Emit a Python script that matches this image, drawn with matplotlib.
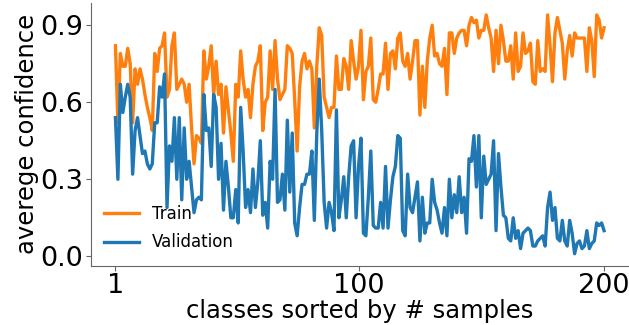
import matplotlib
matplotlib.use("Agg")
import matplotlib.pyplot as plt
import numpy as np

x_ticks = [1, 100, 200]
x_tick_labels = ["1", "100", "200"]
y_ticks = [0.0, 0.3, 0.6, 0.9]
y_tick_labels = ["0.0", "0.3", "0.6", "0.9"]

train = [
    0.82, 0.52, 0.79, 0.74, 0.74, 0.81, 0.75, 0.52, 0.73, 0.67,
    0.73, 0.69, 0.63, 0.58, 0.54, 0.49, 0.79, 0.72, 0.81, 0.82,
    0.87, 0.62, 0.65, 0.82, 0.87, 0.65, 0.67, 0.69, 0.67, 0.60,
    0.67, 0.50, 0.36, 0.47, 0.46, 0.44, 0.80, 0.69, 0.74, 0.82,
    0.63, 0.76, 0.63, 0.67, 0.48, 0.66, 0.57,
    0.48, 0.37, 0.67, 0.62, 0.80, 0.69, 0.62, 0.65, 0.54, 0.67,
    0.74, 0.76, 0.82, 0.49, 0.60, 0.62, 0.80, 0.65, 0.84, 0.69,
    0.61, 0.63, 0.65, 0.82, 0.81, 0.79, 0.61, 0.41, 0.66, 0.76,
    0.79, 0.73, 0.76, 0.73, 0.50, 0.74, 0.89, 0.86, 0.62, 0.58,
    0.54, 0.58, 0.58, 0.78, 0.65, 0.65, 0.77, 0.74, 0.65,
    0.84, 0.76, 0.69, 0.74, 0.88, 0.61, 0.72, 0.74, 0.85, 0.61,
    0.60, 0.65, 0.71, 0.71, 0.83, 0.65, 0.79, 0.80, 0.73, 0.85,
    0.87, 0.76, 0.74, 0.79, 0.69, 0.76, 0.84, 0.84, 0.55, 0.74,
    0.58, 0.76, 0.85, 0.90, 0.78, 0.79, 0.75, 0.74, 0.81, 0.63,
    0.87, 0.87, 0.79, 0.85, 0.87, 0.88, 0.88, 0.82,
    0.90, 0.93, 0.91, 0.92, 0.85, 0.88, 0.88, 0.94, 0.89, 0.85,
    0.72, 0.88, 0.75, 0.90, 0.84, 0.76, 0.76, 0.82, 0.69, 0.87,
    0.72, 0.74, 0.87, 0.79, 0.80, 0.83, 0.68, 0.67, 0.84, 0.72,
    0.73, 0.72, 0.94, 0.82, 0.68, 0.87, 0.93, 0.88, 0.83, 0.69,
    0.80, 0.86, 0.78, 0.87, 0.85, 0.85, 0.85, 0.85, 0.72, 0.89,
    0.84, 0.70, 0.94, 0.92, 0.85, 0.89,
]

validation = [
    0.54, 0.30, 0.67, 0.56, 0.62, 0.67, 0.62, 0.32, 0.49, 0.54,
    0.47, 0.40, 0.41, 0.36, 0.34, 0.36, 0.52, 0.52, 0.66, 0.62,
    0.71, 0.19, 0.43, 0.37, 0.54, 0.30, 0.54, 0.22, 0.50, 0.30,
    0.37, 0.27, 0.17, 0.22, 0.23, 0.22, 0.63, 0.49, 0.50, 0.35,
    0.63, 0.58, 0.30, 0.44, 0.18, 0.37, 0.27,
    0.15, 0.15, 0.26, 0.13, 0.58, 0.41, 0.19, 0.26, 0.17, 0.34,
    0.19, 0.29, 0.45, 0.16, 0.21, 0.11, 0.37, 0.30, 0.65, 0.21,
    0.22, 0.32, 0.18, 0.53, 0.25, 0.48, 0.13, 0.08, 0.19, 0.28,
    0.28, 0.32, 0.32, 0.41, 0.14, 0.48, 0.69, 0.49, 0.21, 0.11,
    0.21, 0.17, 0.10, 0.57, 0.15, 0.22, 0.31, 0.15, 0.31,
    0.43, 0.45, 0.15, 0.35, 0.46, 0.09, 0.08, 0.23, 0.41, 0.12,
    0.11, 0.11, 0.21, 0.11, 0.35, 0.11, 0.22, 0.31, 0.35, 0.47,
    0.46, 0.10, 0.08, 0.32, 0.19, 0.17, 0.23, 0.29, 0.06, 0.23,
    0.09, 0.13, 0.13, 0.30, 0.21, 0.18, 0.13, 0.09, 0.19, 0.08,
    0.30, 0.15, 0.24, 0.17, 0.31, 0.17, 0.23, 0.09,
    0.38, 0.37, 0.47, 0.27, 0.47, 0.15, 0.39, 0.28, 0.30, 0.32,
    0.45, 0.10, 0.40, 0.27, 0.16, 0.15, 0.07, 0.06, 0.15, 0.07,
    0.10, 0.03, 0.09, 0.10, 0.11, 0.10, 0.04, 0.04, 0.06, 0.07,
    0.08, 0.04, 0.19, 0.25, 0.14, 0.19, 0.07, 0.06, 0.14, 0.06,
    0.04, 0.14, 0.09, 0.01, 0.05, 0.06, 0.03, 0.04, 0.10, 0.03,
    0.05, 0.06, 0.13, 0.12, 0.13, 0.10,
]

classes = np.arange(1, len(train) + 1)

fig = plt.figure(figsize=(6.29, 3.25), dpi=100)
ax = fig.add_axes([0.1447, 0.1825, 0.8545, 0.8083])

ax.plot(classes, train, color="#ff7f0e", lw=2.4, label="Train")
ax.plot(classes, validation, color="#1f77b4", lw=2.4, label="Validation")

ax.set_xticks(x_ticks)
ax.set_xticklabels(x_tick_labels)
ax.set_yticks(y_ticks)
ax.set_yticklabels(y_tick_labels)
ax.tick_params(labelsize=19.5, color="0.4", length=3.5, width=0.8, pad=2)

for s in ["top", "right"]:
    ax.spines[s].set_visible(False)
for s in ["left", "bottom"]:
    ax.spines[s].set_color("0.4")

ax.set_xlabel("classes sorted by # samples", fontsize=17.5, labelpad=0)
ax.set_ylabel("averege confidence", fontsize=17.5, labelpad=1)

ax.legend(loc="lower left", frameon=False, fontsize=12, handlelength=2.1,
          handletextpad=0.8, labelspacing=0.62, borderaxespad=0.2,
          bbox_to_anchor=(0.005, 0.016))

fig.savefig("out.png", dpi=100)
